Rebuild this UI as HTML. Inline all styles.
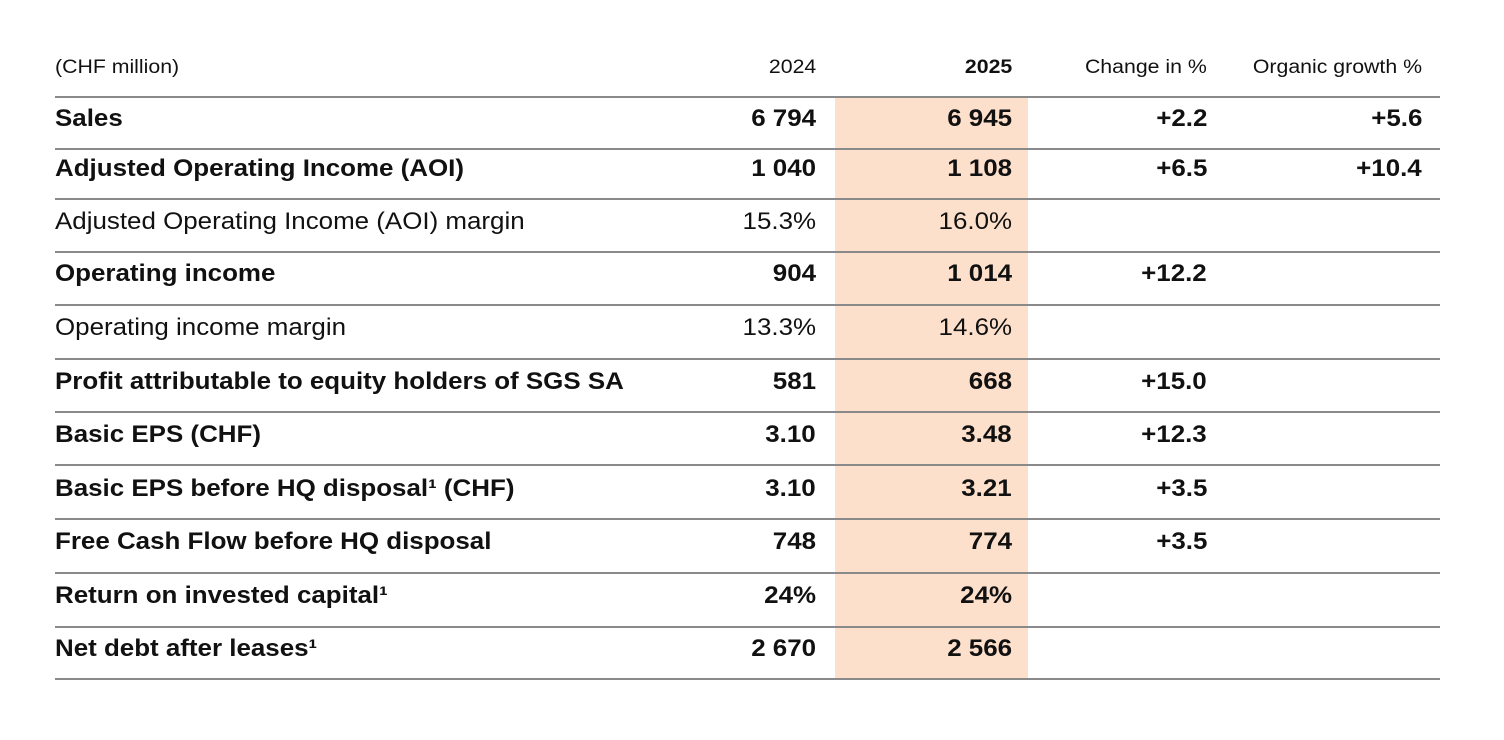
<!DOCTYPE html>
<html><head><meta charset="utf-8"><style>
body{margin:0;width:1504px;height:740px;background:#fff;position:relative;overflow:hidden;font-family:"Liberation Sans",Arial,sans-serif;color:#111}
.bg{position:absolute;left:835px;top:97px;width:193px;height:582px;background:#fde0cb}
.l{position:absolute;left:55px;width:1385px;height:2px;background:#8a8a8a}
.t{position:absolute;height:28px;line-height:28px;font-size:24px;white-space:nowrap;transform:scaleX(1.08);transform-origin:left center}
.b{font-weight:bold}
.r{text-align:right;transform-origin:right center}
.h{font-size:19px;transform:scaleX(1.12)}
</style></head><body>
<div class="bg"></div>
<div class="t h" style="left:55px;top:54px">(CHF million)</div>
<div class="t h r" style="right:688px;top:54px">2024</div>
<div class="t h r b" style="right:492px;top:54px">2025</div>
<div class="t h r" style="right:297px;top:54px">Change in %</div>
<div class="t h r" style="right:82px;top:54px">Organic growth %</div>

<div class="l" style="top:96px"></div>
<div class="l" style="top:148px"></div>
<div class="l" style="top:198px"></div>
<div class="l" style="top:251px"></div>
<div class="l" style="top:304px"></div>
<div class="l" style="top:358px"></div>
<div class="l" style="top:411px"></div>
<div class="l" style="top:464px"></div>
<div class="l" style="top:518px"></div>
<div class="l" style="top:572px"></div>
<div class="l" style="top:626px"></div>
<div class="l" style="top:678px"></div>

<div class="t b" style="left:55px;top:105px">Sales</div>
<div class="t b r" style="right:688px;top:105px">6 794</div>
<div class="t b r" style="right:492px;top:105px">6 945</div>
<div class="t b r" style="right:297px;top:105px">+2.2</div>
<div class="t b r" style="right:82px;top:105px">+5.6</div>

<div class="t b" style="left:55px;top:155px">Adjusted Operating Income (AOI)</div>
<div class="t b r" style="right:688px;top:155px">1 040</div>
<div class="t b r" style="right:492px;top:155px">1 108</div>
<div class="t b r" style="right:297px;top:155px">+6.5</div>
<div class="t b r" style="right:82px;top:155px">+10.4</div>

<div class="t" style="left:55px;top:208px">Adjusted Operating Income (AOI) margin</div>
<div class="t r" style="right:688px;top:208px">15.3%</div>
<div class="t r" style="right:492px;top:208px">16.0%</div>

<div class="t b" style="left:55px;top:260px">Operating income</div>
<div class="t b r" style="right:688px;top:260px">904</div>
<div class="t b r" style="right:492px;top:260px">1 014</div>
<div class="t b r" style="right:297px;top:260px">+12.2</div>

<div class="t" style="left:55px;top:314px">Operating income margin</div>
<div class="t r" style="right:688px;top:314px">13.3%</div>
<div class="t r" style="right:492px;top:314px">14.6%</div>

<div class="t b" style="left:55px;top:368px">Profit attributable to equity holders of SGS SA</div>
<div class="t b r" style="right:688px;top:368px">581</div>
<div class="t b r" style="right:492px;top:368px">668</div>
<div class="t b r" style="right:297px;top:368px">+15.0</div>

<div class="t b" style="left:55px;top:421px">Basic EPS (CHF)</div>
<div class="t b r" style="right:688px;top:421px">3.10</div>
<div class="t b r" style="right:492px;top:421px">3.48</div>
<div class="t b r" style="right:297px;top:421px">+12.3</div>

<div class="t b" style="left:55px;top:475px">Basic EPS before HQ disposal¹ (CHF)</div>
<div class="t b r" style="right:688px;top:475px">3.10</div>
<div class="t b r" style="right:492px;top:475px">3.21</div>
<div class="t b r" style="right:297px;top:475px">+3.5</div>

<div class="t b" style="left:55px;top:528px">Free Cash Flow before HQ disposal</div>
<div class="t b r" style="right:688px;top:528px">748</div>
<div class="t b r" style="right:492px;top:528px">774</div>
<div class="t b r" style="right:297px;top:528px">+3.5</div>

<div class="t b" style="left:55px;top:582px">Return on invested capital¹</div>
<div class="t b r" style="right:688px;top:582px">24%</div>
<div class="t b r" style="right:492px;top:582px">24%</div>

<div class="t b" style="left:55px;top:635px">Net debt after leases¹</div>
<div class="t b r" style="right:688px;top:635px">2 670</div>
<div class="t b r" style="right:492px;top:635px">2 566</div>
</body></html>
